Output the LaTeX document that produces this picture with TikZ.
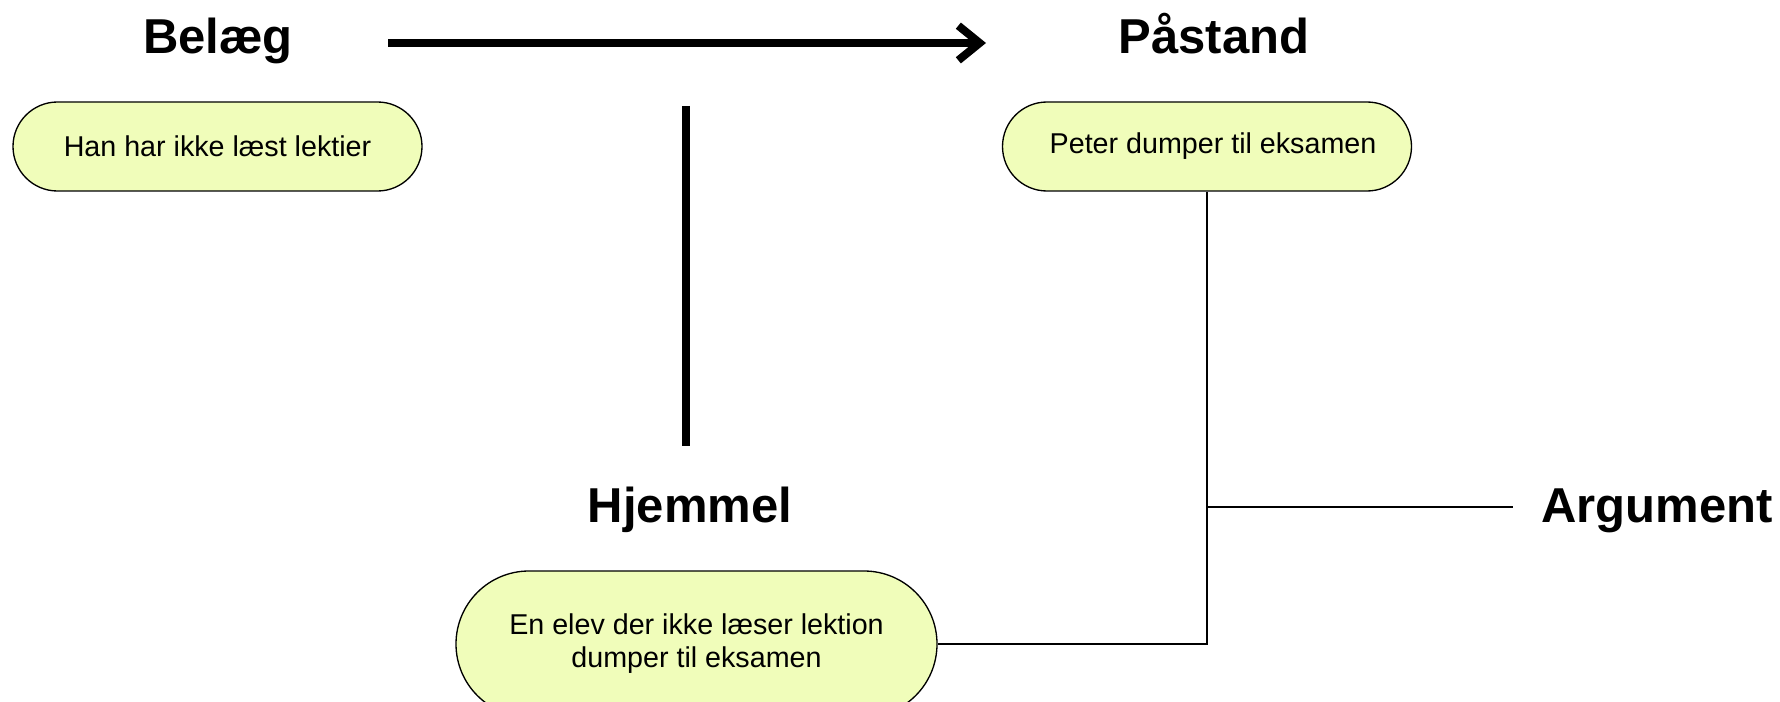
\documentclass[tikz,border=0pt]{standalone}
\usepackage{fontspec}
\setmainfont{Liberation Sans}
\usetikzlibrary{arrows.meta,shapes.misc}

\definecolor{boxfill}{RGB}{240,253,186}
\tikzset{every picture/.style={line width=0.75pt}}
\tikzset{
  heading/.style={font=\fontsize{36.75}{40}\selectfont\bfseries, inner sep=0pt},
  claimbox/.style={rounded rectangle, draw, fill=boxfill, line width=1pt, inner sep=0pt,
    font=\fontsize{21.5}{24.75}\selectfont, align=center},
  thinline/.style={line width=1.1pt},
  thickline/.style={line width=6pt}
}

\begin{document}
\begin{tikzpicture}[x=0.75pt,y=0.75pt,yscale=-1,xscale=1]
		\useasboundingbox (0,0) rectangle (1780,702);
		
		%Headings
		\node[heading, anchor=base] (belaeg) at (218,54) {Belæg};
		\node[heading, anchor=base] (pastand) at (1214,54) {Påstand};
		\node[heading, anchor=base] (hjemmel) at (690,522) {Hjemmel};
		\node[heading, anchor=base west] (argument) at (1541,522) {Argument};
		
		%Boxes
		\node[claimbox, minimum width=306.75pt, minimum height=66.75pt] (belaegbox) at (217.5,146.5) {Han har ikke læst lektier};
		\node[claimbox, minimum width=306.75pt, minimum height=66.75pt] (pastandbox) at (1207,146.5) {\hspace{9pt}Peter dumper til eksamen};
		\node[claimbox, minimum width=360.75pt, minimum height=109.5pt] (hjemmelbox) at (696.5,644) {En elev der ikke læser lektion\\dumper til eksamen};
		
		%Free ends
		\coordinate (arrowstart) at (388,43);
		\coordinate (arrowend) at (986,43);
		\coordinate (warranttop) at (686,106);
		\coordinate (warrantbot) at (686,446);
		\coordinate (argline) at (1513,507);
		
		%Connectors
		\draw[thickline, -{Straight Barb[length=16pt,width=26pt]}] (arrowstart) -- (arrowend);
		\draw[thickline] (warranttop) -- (warrantbot);
		\draw[thinline] (pastandbox.south) |- (hjemmelbox.east);
		\draw[thinline] (pastandbox.south |- argline) -- (argline);
		
\end{tikzpicture}
\end{document}
